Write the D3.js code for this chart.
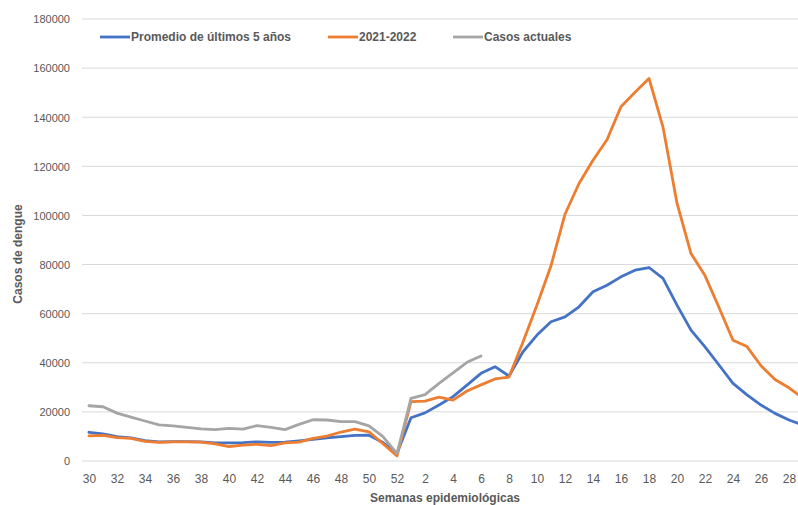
<!DOCTYPE html>
<html>
<head>
<meta charset="utf-8">
<script src="https://cdn.jsdelivr.net/npm/d3@7"></script>
<style>
  html, body { margin: 0; padding: 0; background: #fff; overflow: hidden; }
  svg { display: block; font-family: "Liberation Sans", Arial, sans-serif; }
</style>
</head>
<body>
<svg id="chart" width="798" height="505"></svg>
<script>
// Epidemiological weeks (30..52 then 1..29)
const weeks = ["30","31","32","33","34","35","36","37","38","39","40","41","42","43","44","45","46","47","48","49","50","51","52",
  "1","2","3","4","5","6","7","8","9","10","11","12","13","14","15","16","17","18","19","20","21","22","23","24","25","26","27","28","29"];

const promedio = [11700,11000,9900,9400,8300,7800,7900,7900,7800,7400,7400,7500,7800,7600,7700,8200,8800,9400,9900,10400,10500,7500,3200,
  17600,19600,22800,26200,30900,35700,38400,34600,44500,51300,56700,58700,62800,68900,71600,75000,77700,78800,74400,63500,53300,46500,39100,31600,26900,22800,19400,16700,14700];

const temporada = [10200,10400,9500,9200,8000,7600,7800,7800,7700,7000,5900,6500,6800,6300,7400,7700,9200,10100,11800,13000,11900,7000,2100,
  24200,24400,26000,24800,28500,31000,33400,34200,48500,63500,79500,100500,113000,122500,130800,144300,150200,155800,136000,105000,84500,75500,62500,49200,46600,38800,33200,29800,25500];

const actuales = [22500,22100,19500,17900,16300,14700,14300,13700,13100,12800,13300,13000,14400,13700,12800,14900,16800,16700,16000,16000,14300,9900,3000,
  25500,27000,31600,35900,40200,42800];

const yTicks = [0,20000,40000,60000,80000,100000,120000,140000,160000,180000];

const seriesNames = ["Promedio de últimos 5 años", "2021-2022", "Casos actuales"];
const seriesColors = ["#4472C4", "#ED7D31", "#A5A5A5"];

const svg = d3.select("#chart");

const x = d3.scalePoint().domain(weeks).range([89, 89 + 14 * (weeks.length - 1)]);
const y = d3.scaleLinear().domain([0, 180000]).range([461, 19]);

// Gridlines
svg.append("g")
  .selectAll("line")
  .data(yTicks)
  .join("line")
  .attr("x1", 82).attr("x2", 820)
  .attr("y1", d => y(d)).attr("y2", d => y(d))
  .attr("stroke", "#d9d9d9").attr("stroke-width", 1);

// Y axis labels
const yAxis = d3.axisLeft(y).tickValues(yTicks).tickSize(0).tickPadding(0).tickFormat(d3.format("d"));
const gy = svg.append("g").attr("transform", "translate(70,0)").call(yAxis);
gy.select(".domain").remove();
gy.selectAll("text").attr("fill", "#595959").style("font-size", "11px").attr("dy", "0.35em")
  .style("font-family", "Liberation Sans, Arial, sans-serif");

// X axis labels
const xAxis = d3.axisBottom(x).tickValues(weeks.filter((w, i) => i % 2 === 0)).tickSize(0).tickPadding(0);
const gx = svg.append("g").attr("transform", "translate(0,479)").call(xAxis);
gx.select(".domain").remove();
gx.selectAll("text").attr("fill", "#595959").style("font-size", "12px").attr("dy", "0.35em").attr("y", 0)
  .style("font-family", "Liberation Sans, Arial, sans-serif");

// Lines
const line = d3.line().x((d, i) => x(weeks[i])).y(d => y(d));
[promedio, temporada, actuales].forEach((s, k) => {
  svg.append("path")
    .datum(s)
    .attr("d", line)
    .attr("fill", "none")
    .attr("stroke", seriesColors[k])
    .attr("stroke-width", 2.8)
    .attr("stroke-linejoin", "round")
    .attr("stroke-linecap", "round");
});

// Legend
const legendX = [100, 328, 453];
const lg = svg.append("g");
seriesNames.forEach((n, k) => {
  lg.append("line")
    .attr("x1", legendX[k]).attr("x2", legendX[k] + 30)
    .attr("y1", 37).attr("y2", 37)
    .attr("stroke", seriesColors[k]).attr("stroke-width", 2.8);
  lg.append("text")
    .attr("x", legendX[k] + 31).attr("y", 37).attr("dy", "0.35em")
    .attr("fill", "#595959").style("font-size", "12px").style("font-weight", "bold")
    .text(n);
});

// Axis titles
svg.append("text")
  .attr("x", 445).attr("y", 498).attr("dy", "0.35em")
  .attr("text-anchor", "middle")
  .attr("fill", "#595959").style("font-size", "12px").style("font-weight", "bold")
  .text("Semanas epidemiológicas");

svg.append("text")
  .attr("transform", "translate(18,254) rotate(-90)")
  .attr("dy", "0.35em")
  .attr("text-anchor", "middle")
  .attr("fill", "#595959").style("font-size", "12px").style("font-weight", "bold")
  .text("Casos de dengue");
</script>
</body>
</html>
